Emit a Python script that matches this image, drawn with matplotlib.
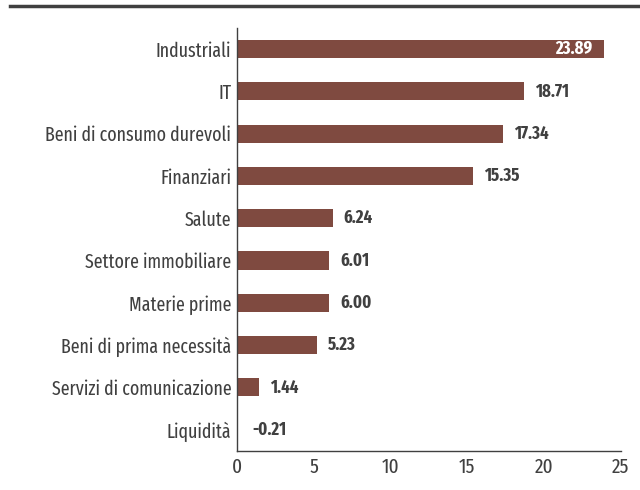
import matplotlib.pyplot as plt
from matplotlib import font_manager
from matplotlib.lines import Line2D

categories = ["Industriali", "IT", "Beni di consumo durevoli", "Finanziari", "Salute",
              "Settore immobiliare", "Materie prime", "Beni di prima necessità",
              "Servizi di comunicazione", "Liquidità"]
values = [23.89, 18.71, 17.34, 15.35, 6.24, 6.01, 6.00, 5.23, 1.44, -0.21]
xticks = [0, 5, 10, 15, 20, 25]

BAR_COLOR = "#7F4A40"
TEXT_COLOR = "#404040"

names = {f.name for f in font_manager.fontManager.ttflist}
FONT = "DejaVu Sans"
for cand in ["Fira Sans Extra Condensed", "Fira Sans Condensed", "Roboto Condensed"]:
    if cand in names:
        FONT = cand
        break

plt.rcParams['font.family'] = [FONT, "DejaVu Sans"]

fig = plt.figure(figsize=(6.4, 4.9), dpi=100)
ax = fig.add_axes([0.370, 0.080, 0.600, 0.863])

y = list(range(len(categories)))
ax.barh(y, values, height=0.43, color=BAR_COLOR)
ax.set_ylim(len(categories) - 0.5, -0.5)
ax.set_xlim(0, 25)

ax.set_yticks(y)
ax.set_yticklabels(categories, fontsize=14, color=TEXT_COLOR)
ax.set_xticks(xticks)
ax.set_xticklabels([str(t) for t in xticks], fontsize=15, color=TEXT_COLOR)
ax.tick_params(axis='both', length=0)
ax.tick_params(axis='y', pad=4)
ax.tick_params(axis='x', pad=5)

for s in ["top", "right"]:
    ax.spines[s].set_visible(False)
for s in ["left", "bottom"]:
    ax.spines[s].set_color("#404040")
    ax.spines[s].set_linewidth(1)

for i, v in enumerate(values):
    if i == 0:
        ax.annotate(f"{v:.2f}", (v, i), xytext=(-8, 0), textcoords="offset points",
                    ha="right", va="center", fontsize=13, fontweight="bold", color="white")
    else:
        off = 8 if v >= 0 else 11
        ax.annotate(f"{v:.2f}", (max(v, 0), i), xytext=(off, 0), textcoords="offset points",
                    ha="left", va="center", fontsize=13, fontweight="bold", color=TEXT_COLOR)

# thick rule across the top
fig.add_artist(Line2D([0.016, 1.0], [0.987, 0.987], transform=fig.transFigure,
                      color="#404040", linewidth=2.5))

fig.savefig("out.png", dpi=100)
